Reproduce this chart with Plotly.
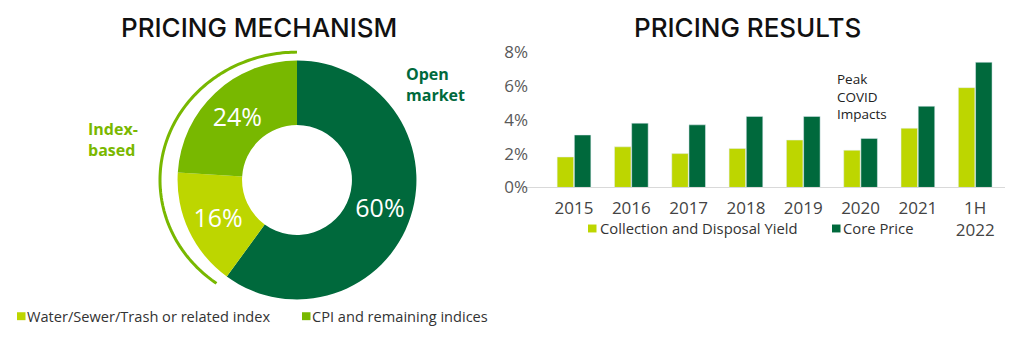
import plotly.graph_objects as go
import numpy as np

# Donut data
mech_labels = ["Open market", "Water/Sewer/Trash or related index", "CPI and remaining indices"]
mech_values = [60, 16, 24]
mech_colors = ["#00693C", "#BDD600", "#78B800"]

# Bar data
years = ["2015", "2016", "2017", "2018", "2019", "2020", "2021", "1H<br>2022"]
yield_vals = [1.8, 2.4, 2.0, 2.3, 2.8, 2.2, 3.5, 5.9]
core_vals = [3.1, 3.8, 3.7, 4.2, 4.2, 2.9, 4.8, 7.4]
y_ticks = [0, 2, 4, 6, 8]
y_ticktext = ["0%", "2%", "4%", "6%", "8%"]

W, H = 1015, 344
FONT = "Open Sans"
TFONT = "Inter"
DARK = "#00693C"
LIGHT = "#BDD600"
MID = "#78B800"
TXT = "#333333"

def px(x):
    return x / W

def py(y):
    return 1 - y / H

fig = go.Figure()

# Donut
cx, cy, r = 297, 180, 128
fig.add_trace(go.Pie(
    labels=mech_labels, values=mech_values, sort=False, direction="clockwise", rotation=0,
    hole=0.46, marker=dict(colors=mech_colors, line=dict(width=0)),
    texttemplate="%{value}%", textposition="inside", insidetextorientation="horizontal",
    textfont=dict(family=FONT, size=25, color="white"),
    domain=dict(x=[px(cx - r), px(cx + r)], y=[py(cy + r), py(cy - r)]),
    showlegend=False, hoverinfo="label+percent",
))

# Bars
fig.add_trace(go.Bar(x=years, y=yield_vals, name="Collection and Disposal Yield",
                     marker_color=LIGHT, showlegend=False))
fig.add_trace(go.Bar(x=years, y=core_vals, name="Core Price",
                     marker_color=DARK, showlegend=False))

# Arc around index-based portion
ar = 137
ang = np.linspace(np.deg2rad(90), np.deg2rad(234), 120)
path = "M " + " L ".join(f"{px(cx + ar*np.cos(a)):.5f},{py(cy - ar*np.sin(a)):.5f}" for a in ang)
shapes = [dict(type="path", path=path, xref="paper", yref="paper",
               line=dict(color=MID, width=3))]

def square(x0, y0, color, s=8.5):
    return dict(type="rect", xref="paper", yref="paper",
                x0=px(x0), x1=px(x0 + s), y0=py(y0 + s / 2), y1=py(y0 - s / 2),
                fillcolor=color, line=dict(width=0))

def ann(text, x, y, size, color, xanchor="center", align="center", weight="normal", family=FONT):
    return dict(text=text, x=px(x), y=py(y), xref="paper", yref="paper",
                xanchor=xanchor, yanchor="middle", align=align, showarrow=False,
                font=dict(family=family, size=size, color=color, weight=weight))

shapes += [square(17, 326, LIGHT), square(302, 326, MID),
           square(588, 232, LIGHT), square(832, 232, DARK)]

annotations = [
    ann("PRICING MECHANISM", 259, 17, 26, "#111111", weight=500, family=TFONT),
    ann("PRICING RESULTS", 747, 17, 26, "#111111", weight=500, family=TFONT),
    ann("<b>Open<br>market</b>", 404, 78, 16, DARK, "left", "left"),
    ann("<b>Index-<br>based</b>", 140, 137, 16, "#7AB800", "right", "left"),
    ann("Peak<br>COVID<br>Impacts", 835, 91, 13.5, "#222222", "left", "left"),
    ann("Water/Sewer/Trash or related index", 25, 326, 14.6, TXT, "left", "left"),
    ann("CPI and remaining indices", 310, 326, 14.6, TXT, "left", "left"),
    ann("Collection and Disposal Yield", 598, 232, 14.8, TXT, "left", "left"),
    ann("Core Price", 841, 232, 14.8, TXT, "left", "left"),
]

fig.update_layout(
    width=W, height=H, margin=dict(l=0, r=0, t=0, b=0),
    paper_bgcolor="white", plot_bgcolor="white",
    barmode="group", bargap=0.4, bargroupgap=0.04,
    shapes=shapes, annotations=annotations,
    xaxis=dict(domain=[px(525), px(1005)], range=[-0.855, 7.52], type="category",
               showline=True, linecolor="#D9D9D9", linewidth=1, showgrid=False, ticks="",
               ticklabelstandoff=5,
               tickfont=dict(family=FONT, size=17, color="#444444")),
    yaxis=dict(domain=[py(188), py(43)], range=[0, 8], tickvals=y_ticks, ticktext=y_ticktext,
               showgrid=False, zeroline=False, showline=False, ticklabelstandoff=-4,
               tickfont=dict(family=FONT, size=17, color="#595959")),
    font=dict(family=FONT),
)

fig.write_html("out.html")
